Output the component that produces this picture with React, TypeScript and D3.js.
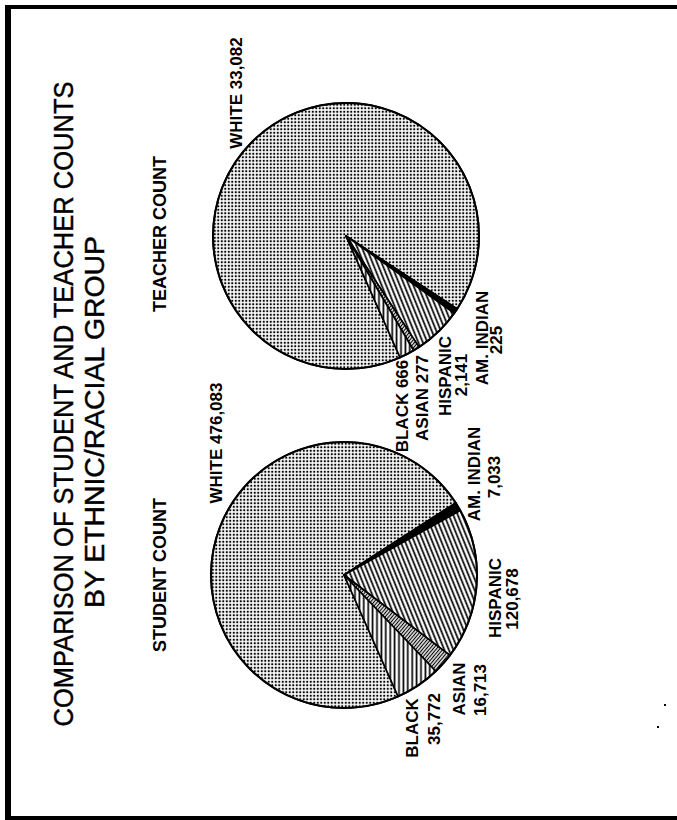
import React from "react";
import * as d3 from "d3";

const categories = ["WHITE", "AM. INDIAN", "HISPANIC", "ASIAN", "BLACK"];
const studentValues = [476083, 7033, 120678, 16713, 35772];
const teacherValues = [33082, 225, 2141, 277, 666];
const patternIds = ["dots", "solid", "hisp", "asian", "black"];

const titleLines = ["COMPARISON OF STUDENT AND TEACHER COUNTS", "BY ETHNIC/RACIAL GROUP"];
const pieTitles = ["STUDENT COUNT", "TEACHER COUNT"];

// label texts: [text, baselineX, centerY]
const studentLabels: [string, number, number][] = [
  ["WHITE 476,083", 222, 443],
  ["BLACK", 418, 728],
  ["35,772", 440, 719],
  ["ASIAN", 465, 689],
  ["16,713", 486, 690],
  ["HISPANIC", 501, 598],
  ["120,678", 518, 599],
  ["AM. INDIAN", 480, 474],
  ["7,033", 500, 477],
];
const teacherLabels: [string, number, number][] = [
  ["WHITE 33,082", 242, 93],
  ["BLACK 666", 408, 406],
  ["ASIAN 277", 428, 398],
  ["HISPANIC", 451, 376],
  ["2,141", 467, 375],
  ["AM. INDIAN", 488, 338],
  ["225", 502, 340],
];

const W = 677;
const H = 820;
const R = 133;
const startDeg = 156;

function Pie({ values, cx, cy }: { values: number[]; cx: number; cy: number }) {
  const pie = d3
    .pie<number>()
    .sort(null)
    .value((d) => d)
    .startAngle((startDeg * Math.PI) / 180)
    .endAngle((startDeg * Math.PI) / 180 + 2 * Math.PI);
  const arc = d3.arc<d3.PieArcDatum<number>>().innerRadius(0).outerRadius(R);
  const arcs = pie(values);
  return (
    <g transform={`translate(${cx},${cy})`}>
      {arcs.map((a, i) => (
        <path
          key={categories[i]}
          d={arc(a) || ""}
          fill={patternIds[i] === "solid" ? "#000" : `url(#${patternIds[i]})`}
          stroke="#000"
          strokeWidth={1.7}
          strokeLinejoin="round"
        />
      ))}
      <circle r={R} fill="none" stroke="#000" strokeWidth={2} />
    </g>
  );
}

function VText({ text, x, y, size, weight, len, sw }: { text: string; x: number; y: number; size: number; weight: string; len?: number; sw?: number }) {
  return (
    <text
      transform={`translate(${x},${y}) rotate(-90)`}
      textAnchor="middle"
      fontFamily="'Liberation Sans', Arial, sans-serif"
      fontSize={size}
      fontWeight={weight}
      fill="#000"
      stroke={sw ? "#000" : "none"}
      strokeWidth={sw || 0}
      {...(len ? { textLength: len, lengthAdjust: "spacingAndGlyphs" } : {})}
    >
      {text}
    </text>
  );
}

export default function App() {
  return (
    <svg width={W} height={H} style={{ position: "absolute", left: 0, top: 0, background: "#fff" }}>
      <defs>
        <pattern id="dots" width={3.5} height={3.5} patternUnits="userSpaceOnUse">
          <rect width={3.5} height={3.5} fill="#fff" />
          <rect x={0.75} y={0.75} width={2} height={2} fill="#000" />
        </pattern>
        <pattern id="hisp" width={4.2} height={10} patternUnits="userSpaceOnUse" patternTransform="rotate(-22)">
          <rect width={4.2} height={10} fill="#fff" />
          <line x1={2} y1={0} x2={2} y2={10} stroke="#000" strokeWidth={1.7} />
        </pattern>
        <pattern id="asian" width={2.6} height={10} patternUnits="userSpaceOnUse" patternTransform="rotate(40)">
          <rect width={2.6} height={10} fill="#fff" />
          <line x1={1.3} y1={0} x2={1.3} y2={10} stroke="#000" strokeWidth={1.2} />
        </pattern>
        <pattern id="black" width={4.4} height={10} patternUnits="userSpaceOnUse">
          <rect width={4.4} height={10} fill="#fff" />
          <line x1={2.2} y1={0} x2={2.2} y2={10} stroke="#000" strokeWidth={1.7} />
        </pattern>
      </defs>
      <rect width={W} height={H} fill="#fff" />
      {/* frame */}
      <rect x={5} y={5} width={6} height={815} fill="#000" />
      <rect x={5} y={5} width={672} height={4} fill="#000" />
      <rect x={5} y={816} width={672} height={4} fill="#000" />

      <VText text={titleLines[0]} x={73} y={404} size={27} weight="normal" len={645} sw={0.4} />
      <VText text={titleLines[1]} x={104} y={422} size={27} weight="normal" len={372} sw={0.4} />
      <VText text={pieTitles[0]} x={166} y={575} size={18} weight="bold" />
      <VText text={pieTitles[1]} x={166} y={234} size={18} weight="bold" />

      <Pie values={studentValues} cx={344} cy={575} />
      <Pie values={teacherValues} cx={346} cy={236} />

      {studentLabels.map(([t, x, y], i) => (
        <VText key={"s" + i} text={t} x={x} y={y} size={17} weight="bold" />
      ))}
      {teacherLabels.map(([t, x, y], i) => (
        <VText key={"t" + i} text={t} x={x} y={y} size={17} weight="bold" />
      ))}
      <rect x={664} y={704} width={2} height={2} fill="#000" />
      <rect x={657} y={726} width={2} height={2} fill="#000" />
    </svg>
  );
}
